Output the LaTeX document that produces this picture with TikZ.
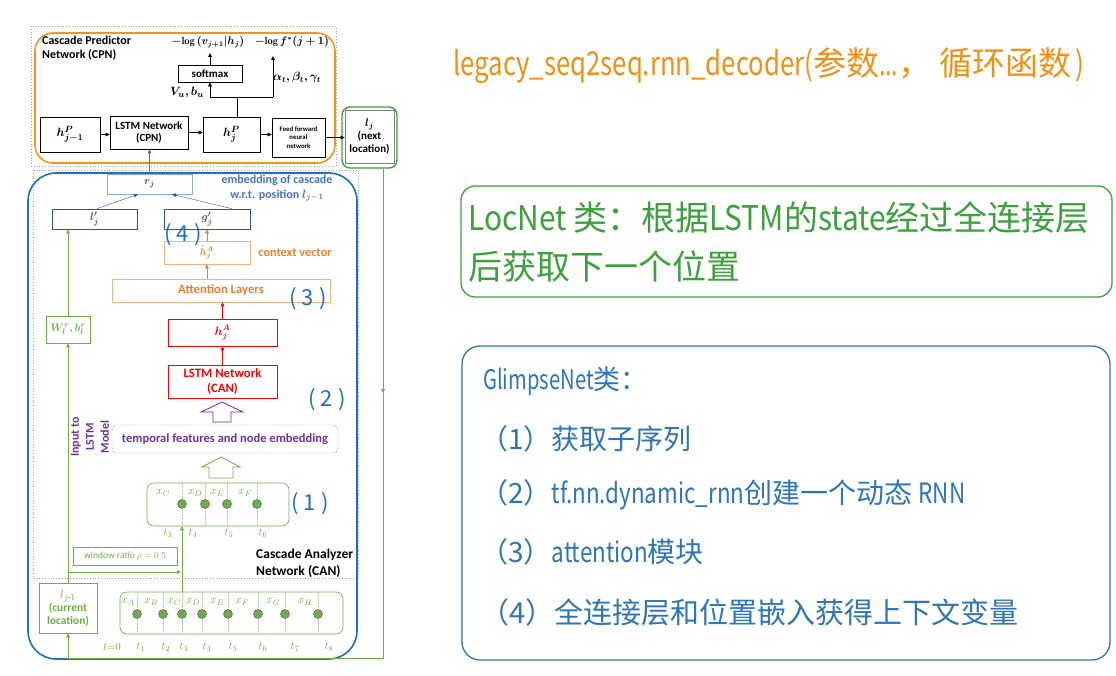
\documentclass[tikz,border=0pt]{standalone}
\usepackage{fontspec}
\usepackage{amsmath,bm}
\usepackage{graphicx}
\newfontfamily\calib{Carlito}
\newfontfamily\cjk{Noto Sans CJK SC}
\usetikzlibrary{arrows.meta,calc}
\definecolor{cpnorange}{RGB}{240,150,30}
\definecolor{canblue}{RGB}{30,110,200}
\definecolor{embblue}{RGB}{68,114,196}
\definecolor{dkblue}{RGB}{47,85,151}
\definecolor{ltblue}{RGB}{143,170,220}
\definecolor{attor}{RGB}{244,177,131}
\definecolor{attortext}{RGB}{237,125,49}
\definecolor{dgreen}{RGB}{112,173,71}
\definecolor{lgreen}{RGB}{180,210,160}
\definecolor{purp}{RGB}{112,48,160}
\definecolor{titleor}{RGB}{240,145,20}
\definecolor{locgreen}{RGB}{60,160,60}
\definecolor{glblue}{RGB}{46,117,182}
\definecolor{dotedge}{RGB}{68,84,106}
\newcommand{\bmlog}{\mathbf{log}\,}
\newcommand{\myscx}[2]{\scalebox{#1}[1]{#2}}
\tikzset{
  blk/.style={draw, line width=0.6pt, inner sep=1pt, align=center},
  lbl/.style={font=\calib\bfseries\fontsize{11}{12.5}\selectfont},
  seqlbl/.style={text=dgreen, inner sep=0, font=\fontsize{12}{12}\selectfont},
  tlbl/.style={text=dgreen, inner sep=0, font=\fontsize{11}{11}\selectfont},
  seqdot/.style={circle, fill=dgreen, draw=dotedge, line width=0.4pt, minimum size=9pt, inner sep=0},
  hand/.style={text=canblue, font=\cjk\fontsize{22}{22}\selectfont, inner sep=0},
  rtext/.style={anchor=west, inner sep=0},
  mathlbl/.style={inner sep=0, font=\fontsize{10.5}{10.5}\selectfont},
  gltext/.style={rtext, text=glblue, font=\cjk\fontsize{28}{30}\selectfont},
}
\begin{document}
\begin{tikzpicture}[x=1pt,y=-1pt,>={Triangle[length=4pt,width=3.6pt]}]
\useasboundingbox (0,0) rectangle (1116,676);
\fill[white] (0,0) rectangle (1116,676);

% ---------- frames ----------
\draw[gray!70, dotted, line width=0.8pt] (31,26) rectangle (336,166);
\draw[gray!70, dotted, line width=0.8pt] (33,170) rectangle (358,578);
\draw[cpnorange, line width=1.6pt, rounded corners=18pt] (35,33) rectangle (335,163);
\draw[canblue, line width=1.6pt, rounded corners=28pt] (28,173) rectangle (357,659);

% ---------- CPN ----------
\node[anchor=north west, inner sep=0, align=left, font=\calib\bfseries\fontsize{12}{13.5}\selectfont] (cpnlabel) at (42,36) {Cascade Predictor\\Network (CPN)};
\node[mathlbl] (toplogA) at (208,42) {$\bm{-}\bmlog\bm{(v_{j+1}\vert h_j)}$};
\node[mathlbl] (toplogB) at (292,42) {$\bm{-}\bmlog\bm{f^{*}(j+1)}$};
\node[blk, lbl, minimum width=64pt, minimum height=17pt] (softmax) at (210,73.5) {softmax};
\node[mathlbl, font=\fontsize{12.5}{12.5}\selectfont] (vu) at (187,93) {$\bm{V_u, b_u}$};
\node[mathlbl, font=\fontsize{11.5}{11.5}\selectfont] (abg) at (297,78) {$\bm{\alpha_t, \beta_t, \gamma_t}$};

\node[blk, minimum width=60pt, minimum height=35pt, font=\fontsize{13}{13}\selectfont] (hjm1) at (70,134.5) {$\bm{h^{P}_{j-1}}$};
\node[blk, lbl, minimum width=78pt, minimum height=33pt] (lstmcpn) at (149,132.5) {LSTM Network\\(CPN)};
\node[blk, minimum width=57pt, minimum height=35pt, font=\fontsize{13}{13}\selectfont] (hjp) at (231.5,134.5) {$\bm{h^{P}_{j}}$};
\node[blk, minimum width=53pt, minimum height=39pt, font=\calib\bfseries\fontsize{6.8}{8.5}\selectfont] (ff) at (298.5,137.5) {Feed forward\\neural\\network};
\node[blk, draw=gray, minimum width=49pt, minimum height=53pt, font=\calib\bfseries\fontsize{11}{13}\selectfont] (lj) at (369.5,136.5) {$\bm{l_j}$\\(next\\location)};
\draw[locgreen, line width=1.4pt, rounded corners=8pt] (342,107) rectangle (397,168);

\draw[->] (hjm1.east) -- (hjm1.east -| lstmcpn.west);
\draw[->] (lstmcpn.east) -- (lstmcpn.east -| hjp.west);
\draw[->] (hjp.east) -- (hjp.east -| ff.west);
\draw[->] (ff.east) -- (ff.east -| lj.west);

\coordinate (sj) at (237,97);
\coordinate (sl) at (210,97);
\coordinate (sr) at (273,97);
\coordinate (ftip) at (273,56);
\coordinate (stip) at (210,53);
\draw (sj |- hjp.north) -- (sj);
\draw (sl) -- (sr);
\draw[->] (sl) -- (softmax.south);
\draw[->] (sr) -- (ftip);
\draw[->] (softmax.north) -- (stip);

% ---------- CAN upper ----------
\node[blk, draw=ltblue, text=dkblue, minimum width=85pt, minimum height=20pt, font=\fontsize{11}{11}\selectfont] (rj) at (149.5,184) {$\bm{r_j}$};
\draw[->, embblue] (rj.north) -- (rj.north |- lstmcpn.south);
\node[text=embblue, align=center, inner sep=0, font=\calib\bfseries\fontsize{12}{15}\selectfont] (embtxt) at (277,188) {embedding of cascade\\w.r.t. position $\bm{l_{j-1}}$};

\node[blk, draw=dkblue, text=dkblue, minimum width=85pt, minimum height=20pt, font=\fontsize{11}{11}\selectfont] (lpj) at (94.5,219) {$\bm{l'_j}$};
\node[blk, draw=dkblue, text=dkblue, minimum width=86pt, minimum height=20pt, font=\fontsize{11}{11}\selectfont] (gpj) at (207,219) {$\bm{g'_j}$};
\draw[->, dkblue] ([xshift=2.5pt]lpj.north) -- ([xshift=-11.5pt]rj.south);
\draw[->, dkblue] ([xshift=25pt]gpj.north) -- ([xshift=22.5pt]rj.south);

\node[blk, draw=attor, text=attortext, minimum width=86pt, minimum height=23pt, font=\fontsize{10}{10}\selectfont] (htil) at (207,252.5) {$\bm{\tilde{h}^{A}_{j}}$};
\node[text=attortext, inner sep=0, font=\calib\bfseries\fontsize{12.3}{12.3}\selectfont] (ctx) at (295,253) {context vector};
\node[blk, draw=attor, text=attortext, minimum width=218pt, minimum height=23pt, font=\calib\bfseries\fontsize{12.7}{12.7}\selectfont] (att) at (221,290.5) {Attention Layers};
\draw[->, attortext] (htil.north) -- (gpj.south);
\draw[->, attortext] (att.north -| htil.south) -- (htil.south);

\node[blk, draw=red, text=red, minimum width=109pt, minimum height=27pt, font=\fontsize{12}{12}\selectfont] (hja) at (222.5,332.5) {$\bm{h^{A}_{j}}$};
\draw[->, red] (hja.north) -- (hja.north |- att.south);
\node[blk, draw=red, text=red, minimum width=109pt, minimum height=33pt, font=\calib\bfseries\fontsize{12.8}{14.5}\selectfont] (lstmcan) at (222.5,381.5) {LSTM Network\\(CAN)};
\draw[->, red] (lstmcan.north) -- (hja.south);

% block arrows
\draw[purp, line width=0.8pt] (213,422) -- (213,412) -- (201,412) -- (222,402) -- (243,412) -- (231,412) -- (231,422) -- cycle;
\draw[dgreen, line width=0.8pt] (209,478) -- (209,467) -- (202,467) -- (221,457) -- (240,467) -- (233,467) -- (233,478) -- cycle;

\node[draw=purp, densely dotted, rounded corners=5pt, text=purp, minimum width=226pt, minimum height=28pt, inner sep=0, font=\calib\bfseries\fontsize{12.5}{12.5}\selectfont] (temporal) at (225,439) {temporal features and node embedding};
\node[rotate=90, text=purp, align=center, inner sep=0, font=\calib\bfseries\fontsize{12}{15}\selectfont] (inputlbl) at (90,437) {Input to\\LSTM\\Model};

% ---------- green sequences ----------
\node[blk, draw=dgreen, text=dgreen, minimum width=44pt, minimum height=27pt, inner sep=0, font=\fontsize{11}{11}\selectfont] (W) at (68,329.5) {$\bm{W^{r}_{l}, b^{r}_{l}}$};
\node[blk, draw=dgreen, text=dgreen, minimum width=58pt, minimum height=50pt, inner sep=0, font=\calib\bfseries\fontsize{11.5}{13}\selectfont] (ljm1) at (68,608) {{\fontsize{13}{13}\selectfont$l_{j\text{-}1}$}\\(current\\location)};
\node[draw=dgreen, line width=0.6pt, rounded corners=7pt, minimum width=142pt, minimum height=43pt] (subseq) at (218,504.5) {};
\node[draw=dgreen, line width=0.6pt, rounded corners=7pt, minimum width=223pt, minimum height=42pt] (fullseq) at (231.5,613) {};
\node[blk, draw=dgreen, text=dgreen, minimum width=104pt, minimum height=18pt, font=\calib\fontsize{9.5}{9.5}\selectfont] (win) at (125,556) {window ratio $\rho = 0.5$};

\foreach \x in {182,205,227,257} \draw[lgreen, densely dotted] (\x,483) -- (\x,526);
\foreach \x in {137,163,182,202,228,258,285,318} \draw[lgreen, densely dotted] (\x,592) -- (\x,634);

\foreach \x [count=\i] in {182,205,227,257} \node[seqdot] (u\i) at (\x,504) {};
\foreach \x [count=\i] in {137,163,182,202,228,258,285,318} \node[seqdot] (d\i) at (\x,614) {};

\foreach \x/\s [count=\i] in {163/C,195/D,217/E,245/F} \node[seqlbl] (ux\i) at (\x,493) {$x_{\s}$};
\foreach \x/\s [count=\i] in {128/A,151/B,174/C,193/D,217/E,242/F,273/G,305/H} \node[seqlbl] (dx\i) at (\x,602) {$x_{\s}$};
\foreach \x/\s [count=\i] in {168/3,193/4,229/5,263/6} \node[tlbl] (ut\i) at (\x,533) {$t_{\s}$};
\node[tlbl] (t0) at (112,647) {$t{=}0$};
\foreach \x/\s [count=\i] in {141/1,166/2,184/3,207/4,233/5,263/6,295/7,329/8} \node[tlbl] (dt\i) at (\x,647) {$t_{\s}$};

\draw[->, dgreen] (u1 |- fullseq.north) -- (u1 |- subseq.south);
\coordinate (wl) at (68,572);
\coordinate (wr) at (181,572);
\draw[->, dgreen] (wl) -- (wr);
\draw[->, dgreen] (ljm1.north) -- (W.south);
\draw[->, dgreen] (W.north) -- (W.north |- lpj.south);

\coordinate (fbtop) at (383,168);
\coordinate (fbmid) at (383,393);
\coordinate (fb1) at (383,658);
\coordinate (fb0) at (68,658);
\draw[dgreen] (fbtop) -- (fb1) -- (fb0);
\draw[->, dgreen] (fbtop) -- (fbmid);
\draw[->, dgreen] (fb0) -- (ljm1.south);

\node[anchor=west, align=left, inner sep=0, font=\calib\bfseries\fontsize{13.5}{17}\selectfont] (canlabel) at (256,563.5) {Cascade Analyzer\\Network (CAN)};

% handwritten step marks
\node[hand] (m4) at (183,235) {( 4 )};
\node[hand] (m3) at (308,299) {( 3 )};
\node[hand] (m2) at (327,400) {( 2 )};
\node[hand] (m1) at (310,504) {( 1 )};

% ---------- right side ----------
\node[rtext, text=titleor, font=\cjk\fontsize{33}{36}\selectfont] (title) at (453,66) {\myscx{0.78}{legacy\_seq2seq.rnn\_decoder(}参数\myscx{0.7}{...}，\hspace{8pt}循环函数\hspace{4pt}\myscx{0.8}{)}};

\draw[locgreen, line width=1.3pt, rounded corners=14pt] (461,186) rectangle (1112,297);
\node[rtext, text=locgreen, font=\cjk\fontsize{34}{36}\selectfont] (loc1) at (468,218) {\myscx{0.88}{LocNet }类：根据\myscx{0.88}{LSTM}的\myscx{0.88}{state}经过全连接层};
\node[rtext, text=locgreen, font=\cjk\fontsize{34}{36}\selectfont] (loc2) at (468,266) {后获取下一个位置};

\draw[glblue, line width=1.3pt, rounded corners=18pt] (462,346) rectangle (1110,660);
\node[gltext, font=\cjk\fontsize{27}{30}\selectfont] (g0) at (483,381) {\myscx{0.75}{GlimpseNet}类：};
\node[gltext] (g1) at (480,439) {（1）获取子序列};
\node[gltext] (g2) at (480,495) {（2）\myscx{0.8}{tf.nn.dynamic\_rnn}创建一个动态 \myscx{0.8}{RNN}};
\node[gltext] (g3) at (480,552) {（3）\myscx{0.8}{attention}模块};
\node[gltext, font=\cjk\fontsize{29}{30}\selectfont] (g4) at (480,612) {（4）全连接层和位置嵌入获得上下文变量};
\end{tikzpicture}
\end{document}
